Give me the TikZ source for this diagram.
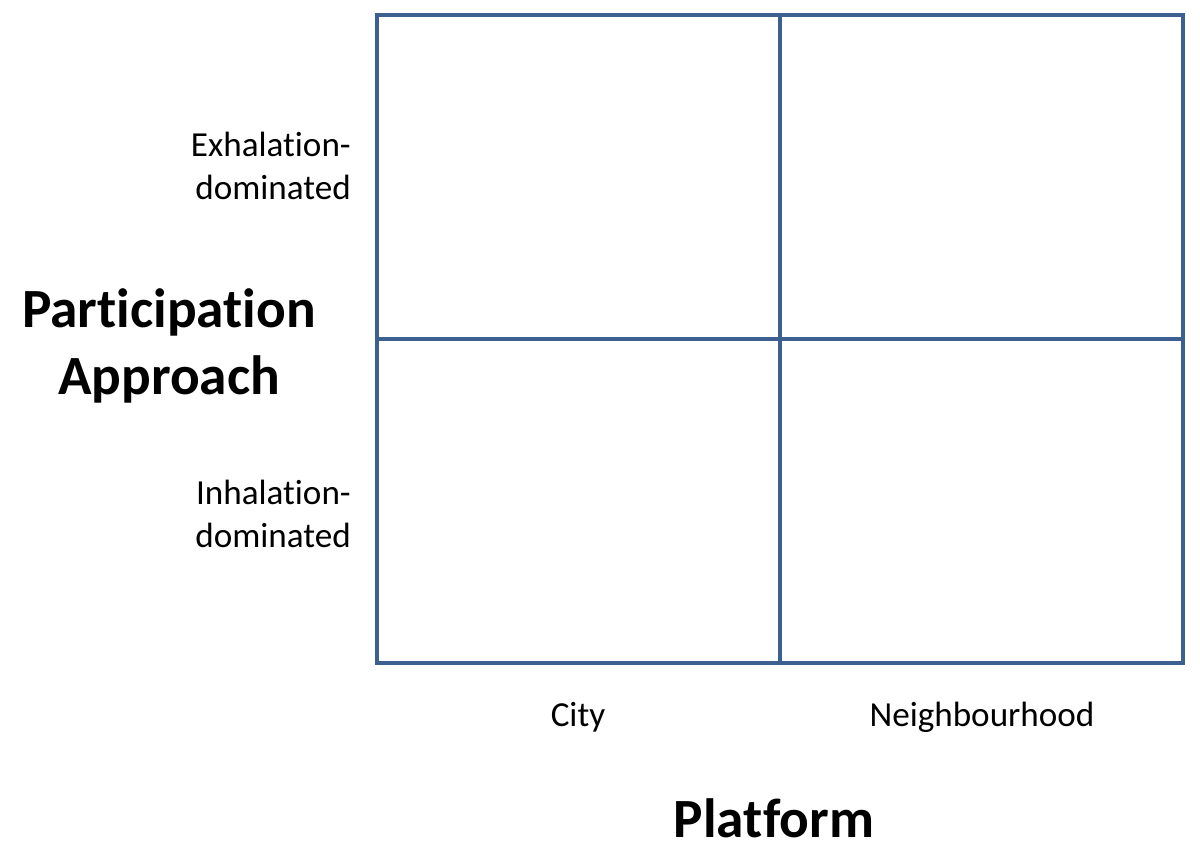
\documentclass[tikz,border=0pt]{standalone}
\usepackage{fontspec}
\setmainfont{Carlito}[Ligatures=CommonOff]
\usetikzlibrary{positioning}
\definecolor{gridblue}{HTML}{3C6190}
\tikzstyle{grid} = [draw=gridblue, line width=2.2pt]
\tikzstyle{rowlabel} = [align=right, anchor=east, font=\fontsize{20}{24}\selectfont]
\tikzstyle{collabel} = [font=\fontsize{20}{24}\selectfont]
\tikzstyle{axislabel} = [align=center, font=\bfseries\fontsize{31.5}{38}\selectfont]

\begin{document}
\begin{tikzpicture}[x=0.02cm, y=-0.02cm]
    \useasboundingbox (0,0) rectangle (1200,861);% keep the page size
    \coordinate (tl) at (377,15);% top left corner
    \coordinate (br) at (1183,663);% bottom right corner
    \coordinate (mt) at (780,15);% top of the middle line
    \coordinate (mb) at (780,663);% bottom of the middle line
    \coordinate (ml) at (377,339);% left end of the cross line
    \coordinate (mr) at (1183,339);% right end of the cross line
    \draw[grid] (tl) rectangle (br);% draw the box
    \draw[grid] (mt) -- (mb);% split the columns
    \draw[grid] (ml) -- (mr);% split the rows
    \node[rowlabel] (exh) at (357,166) {Exhalation-\\dominated};% upper row
    \node[rowlabel] (inh) at (357,514) {Inhalation-\\dominated};% lower row
    \node[collabel] (city) at (578,717) {City};% left column
    \node[collabel] (nbh) at (982,717) {Neighbourhood};% right column
    % Axis titles
    \node[axislabel] (appr) at (169,346) {Participation\\Approach};
    \node[axislabel] (plat) at (774,818) {Platform};
\end{tikzpicture}
\end{document}
